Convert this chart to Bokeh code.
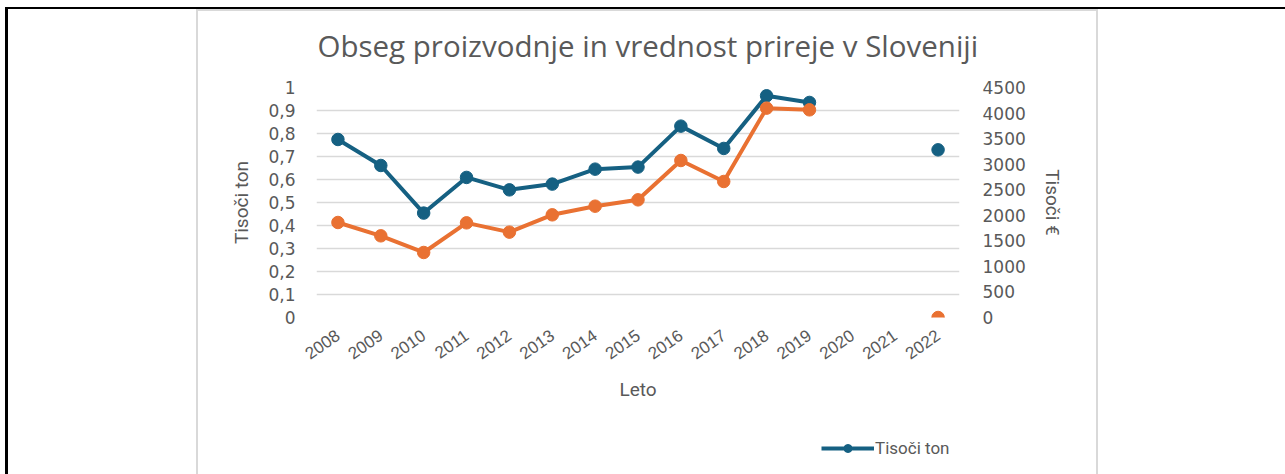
import math
from bokeh.plotting import figure
from bokeh.layouts import column
from bokeh.models import (FactorRange, Range1d, LinearAxis, ColumnDataSource, Legend,
                          LegendItem, FixedTicker, CustomJSTickFormatter)
from bokeh.embed import file_html
from bokeh.resources import INLINE

nan = float("nan")

# ---- data ----
years = [str(y) for y in range(2008, 2023)]
tisoci_ton = [0.774, 0.661, 0.454, 0.609, 0.555, 0.580, 0.645, 0.654, 0.832, 0.735,
              0.964, 0.935, nan, nan, 0.729]
tisoci_eur = [1859, 1598, 1272, 1852, 1670, 2009, 2178, 2302, 3072, 2661,
              4096, 4063, nan, nan, 0]
left_ticks = [0, 0.1, 0.2, 0.3, 0.4, 0.5, 0.6, 0.7, 0.8, 0.9, 1.0]
right_ticks = [0, 500, 1000, 1500, 2000, 2500, 3000, 3500, 4000, 4500]

BLUE = "#156082"
ORANGE = "#E97132"
TEXT = "#595959"
GRID = "#D9D9D9"

src = ColumnDataSource(dict(year=years, ton=tisoci_ton, eur=tisoci_eur))

chart = figure(x_range=FactorRange(*years), y_range=Range1d(0, 1),
               frame_width=643, frame_height=230, output_backend="svg",
               toolbar_location=None,
               min_border_left=316, min_border_right=326, min_border_top=86,
               min_border_bottom=104, outline_line_color=None,
               border_fill_color=None,
               title="Obseg proizvodnje in vrednost prireje v Sloveniji")
chart.extra_y_ranges = {"eur": Range1d(0, 4500)}

chart.title.align = "left"
chart.title.text_font = "Open Sans"
chart.title.text_font_size = "29.5px"
chart.title.text_font_style = "normal"
chart.title.text_color = TEXT
chart.title.offset = 1
chart.title.standoff = 44

# left axis
ya = chart.yaxis[0]
ya.ticker = FixedTicker(ticks=left_ticks)
ya.formatter = CustomJSTickFormatter(code="return (Math.round(tick*10)/10).toString().replace('.', ',');")
ya.axis_label = "Tisoči ton"

ra = LinearAxis(y_range_name="eur", ticker=FixedTicker(ticks=right_ticks),
                axis_label="Tisoči €")
chart.add_layout(ra, "right")

for ax in (ya, ra):
    ax.axis_line_color = None
    ax.major_tick_line_color = None
    ax.minor_tick_line_color = None
    ax.major_tick_out = 0
    ax.major_tick_in = 0
    ax.major_label_text_font = "DejaVu Sans"
    ax.major_label_text_font_size = "17px"
    ax.major_label_text_color = TEXT
    ax.axis_label_text_font = "Roboto"
    ax.axis_label_text_font_size = "19px"
    ax.axis_label_text_font_style = "normal"
    ax.axis_label_text_color = TEXT
ya.major_label_standoff = 21
ra.major_label_standoff = 23
ya.axis_label_standoff = 12
ra.axis_label_standoff = 12

xa = chart.xaxis[0]
xa.axis_line_color = None
xa.major_tick_line_color = None
xa.major_tick_out = 0
xa.major_tick_in = 0
xa.major_label_orientation = 0.61
xa.major_label_text_font = "Liberation Sans"
xa.major_label_text_font_size = "17px"
xa.major_label_text_color = TEXT
xa.major_label_standoff = 16
xa.axis_label = "Leto"
xa.axis_label_text_font = "Roboto"
xa.axis_label_text_font_size = "19px"
xa.axis_label_text_font_style = "normal"
xa.axis_label_text_color = TEXT
xa.axis_label_standoff = 10

chart.xgrid.grid_line_color = None
chart.ygrid.grid_line_color = GRID
chart.ygrid.grid_line_width = 1.5

chart.line("year", "ton", source=src, color=BLUE, line_width=4, line_join="round")
chart.scatter("year", "ton", source=src, size=12.5, color=BLUE)
chart.line("year", "eur", source=src, y_range_name="eur", color=ORANGE,
           line_width=4, line_join="round")
chart.scatter("year", "eur", source=src, y_range_name="eur", size=12.5, color=ORANGE)

# legend strip below the chart (its own renderers lie outside its visible range)
legfig = figure(x_range=FactorRange(*years), y_range=Range1d(10, 11),
                width=1285, height=54, output_backend="svg", toolbar_location=None,
                x_axis_location=None, y_axis_location=None, min_border=0,
                outline_line_color=None, border_fill_color=None,
                background_fill_color=None)
legfig.xgrid.grid_line_color = None
legfig.ygrid.grid_line_color = None
ll1 = legfig.line("year", "ton", source=src, color=BLUE, line_width=4)
ls1 = legfig.scatter("year", "ton", source=src, size=12.5, color=BLUE)
ll2 = legfig.line("year", "eur", source=src, color=ORANGE, line_width=4)
ls2 = legfig.scatter("year", "eur", source=src, size=12.5, color=ORANGE)

legend = Legend(items=[LegendItem(label="Tisoči ton", renderers=[ll1, ls1]),
                       LegendItem(label="Tisoči €", renderers=[ll2, ls2])],
                orientation="horizontal", location=(505, 17), margin=0,
                glyph_width=53, glyph_height=20, label_standoff=1, spacing=25,
                padding=0, border_line_color=None, background_fill_alpha=0,
                label_text_font="Roboto", label_text_font_size="17px",
                label_text_color=TEXT)
legfig.add_layout(legend)

p = column(chart, legfig, spacing=0)
# frames drawn as css background behind the transparent canvases
p.styles = {
    "background-image": ", ".join(["linear-gradient(#000, #000)"] * 2
                                  + ["linear-gradient(#D9D9D9, #D9D9D9)"] * 3),
    "background-size": "3px 100%, 100% 2px, 2px 100%, 2px 100%, 902px 2px",
    "background-position": "5px 7px, 5px 7px, 196px 9px, 1096px 9px, 196px 9px",
    "background-repeat": "no-repeat",
    "min-height": "474px",
}

open("out.html", "w").write(file_html(p, INLINE))
